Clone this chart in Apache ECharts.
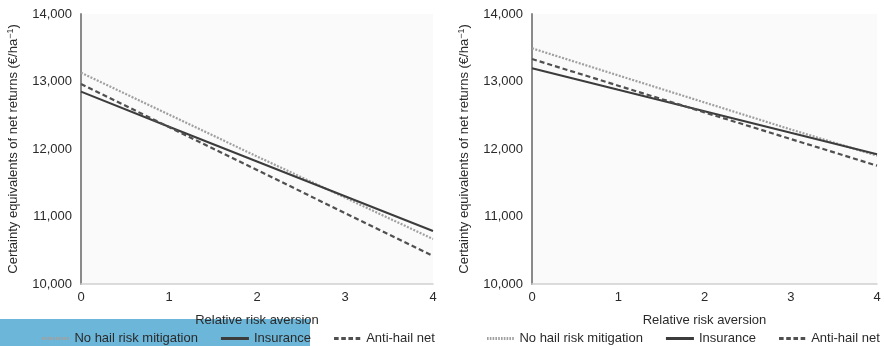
<!DOCTYPE html>
<html>
<head>
<meta charset="utf-8">
<script src="https://cdn.jsdelivr.net/npm/echarts@6/dist/echarts.min.js"></script>
<style>
html,body{margin:0;padding:0;background:#fff;}
#c{width:884px;height:346px;}
</style>
</head>
<body>
<div id="c"></div>
<script>
var riskAversion = [0, 1, 2, 3, 4];
var seriesNames = ['No hail risk mitigation', 'Insurance', 'Anti-hail net'];
var leftNoHail = [13130, 12510, 11890, 11280, 10667];
var leftInsurance = [12849, 12330, 11815, 11300, 10785];
var leftAntiHail = [12963, 12325, 11690, 11050, 10415];
var rightNoHail = [13492, 13090, 12690, 12290, 11900];
var rightInsurance = [13196, 12877, 12559, 12240, 11922];
var rightAntiHail = [13333, 12938, 12543, 12148, 11753];
var yTicks = [10000, 11000, 12000, 13000, 14000];

function pairs(vals){ return riskAversion.map(function(x,i){ return [x, vals[i]]; }); }

var styles = [
  {color:'#a0a0a0', type:[2,1.5], width:2.2},
  {color:'#3c3c3c', type:'solid', width:2},
  {color:'#505050', type:[5,3], width:2.2}
];
var font = 'Liberation Sans, Arial, sans-serif';
var txt = '#2a2a2a';

function dashPath(seg, gap, total, h){
  var p = '', x = 0;
  while (x < total - 0.01) {
    var w = Math.min(seg, total - x);
    p += 'M' + x + ',0 L' + (x + w) + ',0 L' + (x + w) + ',' + h + ' L' + x + ',' + h + ' Z ';
    x += seg + gap;
  }
  return 'path://' + p;
}
var legendIcons = [
  dashPath(1.6, 1.2, 28, 3),
  'path://M0,0 L28,0 L28,3 L0,3 Z',
  dashPath(4.6, 2.6, 28, 3)
];

function xAxis(idx){
  return {
    type:'value', gridIndex:idx, min:0, max:4, interval:1,
    name:'Relative risk aversion', nameLocation:'middle', nameGap:30,
    nameTextStyle:{color:txt, fontSize:13, fontFamily:font},
    axisLine:{show:true, lineStyle:{color:'#cfcfcf', width:1.5}},
    axisTick:{show:false},
    splitLine:{show:false},
    axisLabel:{color:txt, fontSize:13, fontFamily:font, margin:7}
  };
}
function yAxis(idx){
  return {
    type:'value', gridIndex:idx, min:yTicks[0], max:yTicks[yTicks.length-1], interval:1000,
    name:'Certainty equivalents of net returns (€/ha{sup|−1})',
    nameLocation:'middle', nameGap:60, nameRotate:90,
    nameTextStyle:{color:txt, fontSize:13, fontFamily:font,
      rich:{sup:{fontSize:9, verticalAlign:'top', color:txt, fontFamily:font, padding:[0,0,6,0]}}},
    axisLine:{show:true, lineStyle:{color:'#8a8a8a', width:2}},
    axisTick:{show:false},
    splitLine:{show:false},
    axisLabel:{color:txt, fontSize:13, fontFamily:font, margin:9,
      formatter:function(v){ return v.toLocaleString('en-US'); }}
  };
}
function mk(name, vals, s, idx){
  return {
    type:'line', name:name, xAxisIndex:idx, yAxisIndex:idx, data:pairs(vals),
    showSymbol:false, symbol:'none', silent:true,
    lineStyle:{color:s.color, type:s.type, width:s.width},
    itemStyle:{color:s.color}
  };
}
function legend(left){
  return {
    top:327, left:left, width:420, itemWidth:28, itemHeight:3, itemGap:23,
    textStyle:{color:txt, fontSize:13, fontFamily:font},
    data:seriesNames.map(function(n,i){
      return {name:n, icon:legendIcons[i], itemStyle:{color:styles[i].color, borderWidth:0}};
    })
  };
}
var chart = echarts.init(document.getElementById('c'), null, {renderer:'canvas'});
chart.setOption({
  animation:false,
  backgroundColor:'#ffffff',
  graphic:[{type:'rect', z:-1, shape:{x:0, y:319, width:310, height:27}, style:{fill:'#6cb6d9'}}],
  grid:[
    {left:81, right:451, top:14, bottom:62, show:true, backgroundColor:'#fafafa', borderWidth:0},
    {left:532, right:7, top:14, bottom:62, show:true, backgroundColor:'#fafafa', borderWidth:0}
  ],
  xAxis:[xAxis(0), xAxis(1)],
  yAxis:[yAxis(0), yAxis(1)],
  legend:[legend(37), legend(482)],
  series:[
    mk(seriesNames[0], leftNoHail, styles[0], 0),
    mk(seriesNames[1], leftInsurance, styles[1], 0),
    mk(seriesNames[2], leftAntiHail, styles[2], 0),
    mk(seriesNames[0], rightNoHail, styles[0], 1),
    mk(seriesNames[1], rightInsurance, styles[1], 1),
    mk(seriesNames[2], rightAntiHail, styles[2], 1)
  ]
});
</script>
</body>
</html>
